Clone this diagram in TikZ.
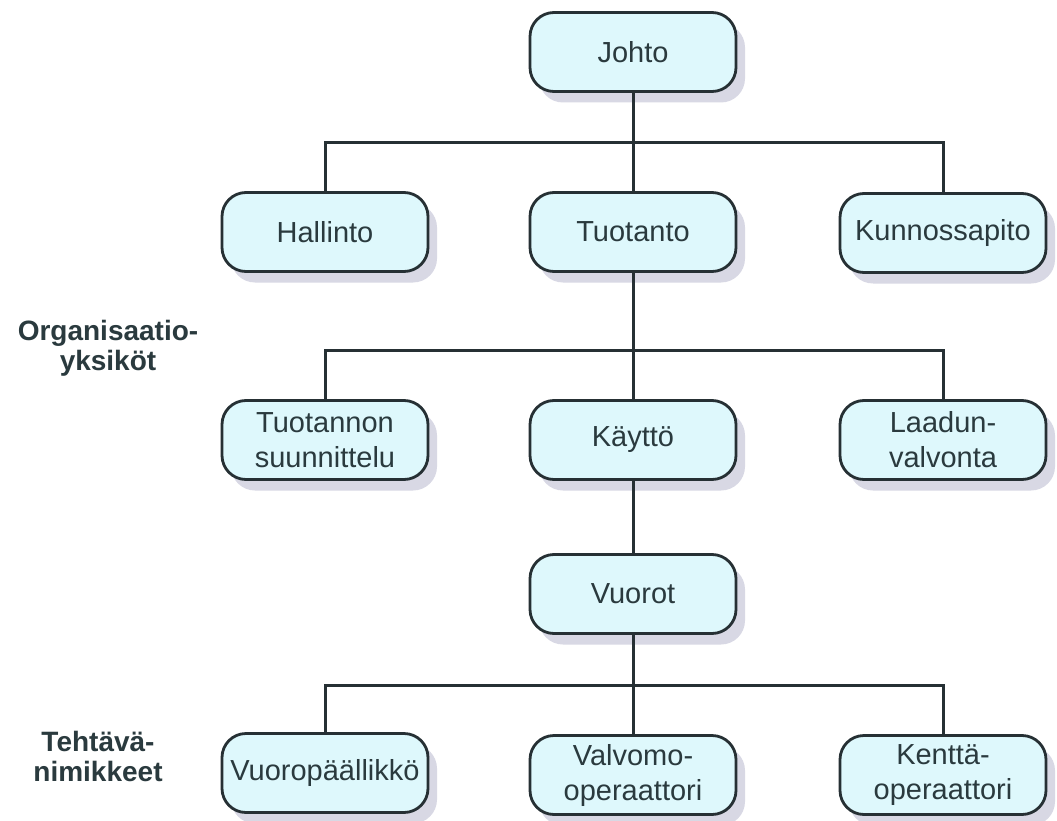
\documentclass[tikz,border=0pt]{standalone}
\usepackage{fontspec}
\setmainfont{Liberation Sans}
\usetikzlibrary{shadows}
\definecolor{boxfill}{RGB}{222,248,252}
\definecolor{boxline}{RGB}{38,48,52}
\definecolor{txt}{RGB}{42,58,62}
\definecolor{shade}{RGB}{212,212,226}
\tikzset{
  orgbox/.style={draw=boxline, line width=2.8pt, fill=boxfill, rounded corners=24pt,
    minimum width=206pt, minimum height=79pt, text=txt, align=center,
    font=\fontsize{29}{35}\selectfont, inner sep=2pt,
    drop shadow={shadow xshift=9pt, shadow yshift=-11pt, fill=shade, opacity=0.9}},
  link/.style={draw=boxline, line width=3pt},
  sidelabel/.style={text=txt, align=center, font=\bfseries\fontsize{28}{30}\selectfont}
}
\begin{document}
\begin{tikzpicture}[x=1pt,y=-1pt]
\useasboundingbox[fill=white] (0,0) rectangle (1057,821);
\coordinate (b1) at (633,143);
\coordinate (b2) at (633,350);
\coordinate (b3) at (633,685);
\node[orgbox] (johto) at (633,52) {Johto};
\node[orgbox] (hal) at (325,232) {Hallinto};
\node[orgbox] (tuo) at (633,232) {Tuotanto};
\node[orgbox] (kun) at (943,233) {Kunnossapito};
\node[orgbox] (tsu) at (325,440) {Tuotannon\\suunnittelu};
\node[orgbox] (kay) at (633,440) {Käyttö};
\node[orgbox] (laa) at (943,440) {Laadun-\\valvonta};
\node[orgbox] (vuo) at (633,594) {Vuorot};
\node[orgbox] (vpa) at (325,773) {Vuoropäällikkö};
\node[orgbox] (val) at (633,775) {Valvomo-\\operaattori};
\node[orgbox] (ken) at (943,775) {Kenttä-\\operaattori};
\draw[link] (johto.south) -- (tuo.north);
\draw[link] (hal.north) |- (b1) -| (kun.north);
\draw[link] (tuo.south) -- (kay.north);
\draw[link] (tsu.north) |- (b2) -| (laa.north);
\draw[link] (kay.south) -- (vuo.north);
\draw[link] (vuo.south) -- (val.north);
\draw[link] (vpa.north) |- (b3) -| (ken.north);
\node[sidelabel] (org) at (108,348) {Organisaatio-\\yksiköt};
\node[sidelabel] (teh) at (98,756) {Tehtävä-\\nimikkeet};
\end{tikzpicture}
\end{document}
